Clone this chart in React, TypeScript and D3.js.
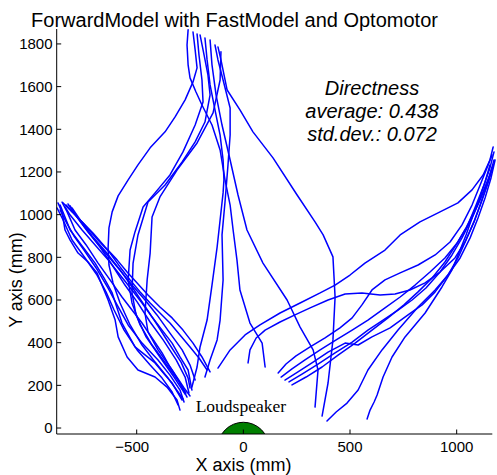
import React from "react";
import * as d3 from "d3";

type P = [number, number];

const xTicks = [-500, 0, 500, 1000];
const yTicks = [0, 200, 400, 600, 800, 1000, 1200, 1400, 1600, 1800];

const titleText = "ForwardModel with FastModel and Optomotor";
const statLines = ["Directness", "average: 0.438", "std.dev.: 0.072"];

// speaker (mm)
const speakerCenter: P = [0, -93];
const speakerRadius = 120;

// trajectories (mm), left start cluster
const leftTracks: P[][] = [
  [[-869,1055],[-850,1013],[-836,928],[-812,881],[-775,820],[-728,778],[-686,727],[-634,600],[-601,506],[-587,427],[-545,333],[-494,272],[-414,239],[-358,192],[-311,131],[-297,84]],
  [[-859,1045],[-840,998],[-812,928],[-756,853],[-695,773],[-653,703],[-615,633],[-569,492],[-508,380],[-414,305],[-367,248],[-334,211],[-287,131]],
  [[-850,1059],[-826,1013],[-789,928],[-737,858],[-681,773],[-625,694],[-569,614],[-522,553],[-475,492],[-428,422],[-381,352],[-344,286],[-306,225],[-264,145]],
  [[-836,1036],[-812,998],[-756,928],[-695,858],[-634,788],[-578,717],[-522,647],[-475,586],[-428,520],[-381,459],[-334,398],[-297,333],[-259,272],[-241,178]],
  [[-822,1050],[-794,1008],[-742,938],[-672,848],[-615,764],[-555,670],[-498,591],[-437,497],[-376,413],[-315,319],[-273,239],[-255,164]],
  [[-873,1031],[-845,975],[-803,881],[-742,797],[-686,717],[-644,638],[-606,553],[-559,459],[-498,366],[-437,295],[-381,234],[-334,169],[-306,108]],
  [[-812,1041],[-784,994],[-728,919],[-658,834],[-587,750],[-522,670],[-461,600],[-405,530],[-344,445],[-287,366],[-250,295],[-226,225]],
  [[-845,1055],[-803,1013],[-751,961],[-690,891],[-625,820],[-578,755],[-531,694],[-484,638],[-437,586],[-391,539],[-344,492],[-297,436],[-250,380],[-208,328],[-170,272]],
  [[-831,1045],[-765,975],[-705,914],[-648,848],[-592,788],[-545,731],[-498,680],[-447,623],[-391,567],[-334,516],[-283,459],[-236,398],[-194,333],[-156,263]],
  [[-859,1022],[-831,966],[-794,900],[-747,834],[-690,750],[-634,656],[-592,577],[-540,483],[-475,398],[-400,319],[-344,248],[-297,178],[-278,122]],
  [[-803,1031],[-765,975],[-709,900],[-644,825],[-578,741],[-512,647],[-456,563],[-400,478],[-344,389],[-292,309],[-259,234],[-250,188]],
];

// trajectories from the top
const topTracks: P[][] = [
  [[-259,1866],[-264,1795],[-259,1702],[-250,1641],[-222,1575],[-194,1514],[-147,1420],[-109,1303],[-86,1163],[-62,1045],[-48,928],[-30,788],[-16,647],[31,492],[88,398],[102,286]],
  [[-236,1856],[-226,1772],[-217,1688],[-236,1622],[-273,1538],[-320,1458],[-367,1388],[-437,1313],[-494,1233],[-540,1163],[-587,1088],[-615,1013],[-630,938],[-634,844],[-630,764],[-611,680],[-578,586],[-531,483],[-475,389],[-414,309],[-353,234],[-306,169],[-283,136]],
  [[-217,1847],[-208,1748],[-194,1631],[-189,1528],[-226,1420],[-283,1294],[-344,1186],[-414,1102],[-470,1036],[-508,919],[-531,834],[-540,694],[-522,586],[-484,483],[-428,389],[-358,295],[-297,211],[-269,164]],
  [[-203,1842],[-184,1748],[-166,1655],[-156,1561],[-180,1434],[-226,1341],[-287,1247],[-367,1139],[-447,1059],[-494,905],[-517,773],[-522,633],[-503,530],[-456,427],[-391,333],[-325,239],[-273,159]],
  [[-105,1763],[-109,1631],[-142,1477],[-217,1336],[-311,1209],[-391,1083],[-428,989],[-437,820],[-451,694],[-461,539],[-447,450],[-400,366],[-334,272],[-278,188],[-250,150]],
  [[-180,1828],[-170,1725],[-156,1608],[-133,1491],[-109,1373],[-95,1256],[-91,1163],[-95,1102],[-109,975],[-123,848],[-147,670],[-170,506],[-203,380],[-217,286],[-241,192]],
  [[-133,1795],[-119,1725],[-95,1631],[-62,1500],[-62,1373],[-72,1233],[-86,1059],[-100,905],[-95,694],[-109,506],[-123,413],[-156,319],[-180,239]],
  [[-119,1786],[-105,1725],[-76,1584],[-16,1491],[45,1388],[139,1266],[252,1092],[336,966],[374,905],[420,802],[430,614],[420,413],[397,211],[369,56]],
  [[-156,1819],[-147,1702],[-128,1561],[-100,1420],[-62,1256],[-25,1092],[17,928],[92,773],[205,600],[266,473],[327,366],[350,272],[336,98]],
];

// trajectories from the right
const rightTracks: P[][] = [
  [[-119,281],[-62,366],[8,436],[78,483],[172,539],[266,586],[360,633],[430,670],[500,717],[570,773],[664,834],[735,905],[828,966],[922,1013],[1006,1055],[1072,1116],[1124,1186],[1156,1256],[1171,1317]],
  [[22,305],[31,366],[60,422],[102,459],[172,497],[242,530],[313,563],[397,600],[477,628],[556,633],[641,623],[711,628],[781,647],[852,680],[922,731],[992,797],[1039,872],[1081,966],[1119,1069],[1152,1163],[1171,1233]],
  [[163,258],[200,300],[247,338],[313,380],[383,422],[453,469],[510,516],[556,577],[603,647],[664,694],[735,727],[819,764],[899,811],[969,872],[1025,952],[1072,1045],[1110,1139],[1142,1219],[1166,1280]],
  [[177,239],[228,277],[289,319],[360,366],[435,413],[510,459],[584,506],[664,563],[735,614],[805,670],[875,731],[945,797],[1006,872],[1053,952],[1091,1045],[1128,1139],[1156,1219],[1175,1294]],
  [[195,225],[256,263],[327,309],[397,356],[477,398],[538,389],[603,427],[688,469],[772,530],[838,577],[899,638],[959,717],[1016,797],[1063,891],[1100,984],[1133,1078],[1161,1172],[1180,1256]],
  [[214,216],[275,253],[350,300],[430,352],[510,403],[584,459],[655,506],[725,553],[791,600],[856,656],[922,731],[978,811],[1025,891],[1072,984],[1110,1069],[1147,1163],[1171,1233]],
  [[228,202],[294,239],[369,286],[444,342],[524,398],[603,459],[678,516],[753,577],[819,638],[885,703],[945,778],[997,858],[1044,938],[1086,1022],[1124,1106],[1156,1186],[1175,1256]],
  [[392,33],[435,75],[486,117],[538,178],[584,272],[650,366],[725,459],[819,567],[899,647],[959,717],[1006,797],[1044,881],[1081,966],[1110,1045],[1142,1139],[1166,1219]],
  [[580,42],[594,84],[613,122],[627,155],[655,239],[697,333],[758,427],[852,539],[931,661],[978,741],[1016,834],[1044,905],[1072,984],[1105,1069],[1133,1153],[1156,1233]],
];

const W = 497;
const H = 475;
const L = 56.7, R = 492.3, T = 29, B = 434;
const sans = "'Liberation Sans', Arial, Helvetica, sans-serif";
const serif = "'Liberation Serif', 'Times New Roman', serif";

export default function App() {
  const x = d3.scaleLinear().domain([-875, 1167]).range([L, R]);
  const y = d3.scaleLinear().domain([-28, 1870]).range([B, T]);
  const line = d3.line<P>().x(d => x(d[0])).y(d => y(d[1]));
  const all = [...leftTracks, ...topTracks, ...rightTracks];
  const rpx = x(speakerRadius) - x(0);

  return (
    <div style={{ position: "absolute", left: 0, top: 0 }}>
      <svg width={W} height={H} style={{ display: "block", background: "#fff" }}>
        <defs>
          <clipPath id="plotclip">
            <rect x={L} y={T} width={R - L} height={B - T} />
          </clipPath>
        </defs>
        <text x={234.5} y={27} textAnchor="middle" fontFamily={sans} fontSize={20} fill="#000">{titleText}</text>

        {all.map((t, i) => (
          <path key={i} d={line(t) || ""} fill="none" stroke="#0000ff" strokeWidth={1.5} strokeLinejoin="round" strokeLinecap="round" />
        ))}

        <g clipPath="url(#plotclip)">
          <circle cx={x(speakerCenter[0])} cy={y(speakerCenter[1])} r={rpx} fill="#007f00" stroke="#000" strokeWidth={1} />
        </g>
        <text x={x(0) - 2.5} y={412} textAnchor="middle" fontFamily={serif} fontSize={17.5} fill="#000">Loudspeaker</text>

        {statLines.map((s, i) => (
          <text key={s} x={372} y={95 + i * 23} textAnchor="middle" fontFamily={sans} fontStyle="italic" fontSize={20} fill="#000">{s}</text>
        ))}

        {/* axes */}
        <line x1={L} y1={T} x2={L} y2={B} stroke="#000" strokeWidth={1} />
        <line x1={L} y1={B} x2={R} y2={B} stroke="#000" strokeWidth={1} />
        {yTicks.map(v => (
          <g key={v}>
            <line x1={L} x2={L + 4.5} y1={y(v)} y2={y(v)} stroke="#000" strokeWidth={1} />
            <text x={52.5} y={y(v) + 5.3} textAnchor="end" fontFamily={sans} fontSize={15} fill="#000">{v}</text>
          </g>
        ))}
        {xTicks.map(v => (
          <g key={v}>
            <line x1={x(v)} x2={x(v)} y1={B} y2={B - 4.5} stroke="#000" strokeWidth={1} />
            <text x={x(v) + (v < 0 ? -4.5 : 0)} y={452} textAnchor="middle" fontFamily={sans} fontSize={15} fill="#000">{v < 0 ? "\u2212" + Math.abs(v) : String(v)}</text>
          </g>
        ))}
        <text x={243.5} y={471} textAnchor="middle" fontFamily={sans} fontSize={18} fill="#000">X axis (mm)</text>
        <text transform="translate(22,280) rotate(-90)" textAnchor="middle" fontFamily={sans} fontSize={18} fill="#000">Y axis (mm)</text>
      </svg>
    </div>
  );
}
